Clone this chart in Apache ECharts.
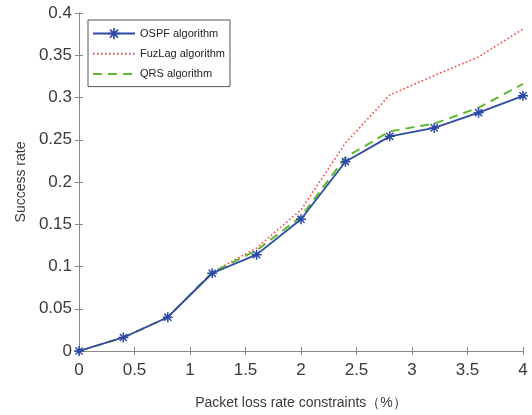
<!DOCTYPE html>
<html>
<head>
<meta charset="utf-8">
<script src="https://cdn.jsdelivr.net/npm/echarts@6/dist/echarts.min.js"></script>
<style>
  html, body { margin: 0; padding: 0; background: #fff; }
  #chart { width: 532px; height: 415px; }
</style>
</head>
<body>
<div id="chart"></div>
<script>
// Packet loss rate constraints (%)
const lossRates = [0, 0.4, 0.8, 1.2, 1.6, 2.0, 2.4, 2.8, 3.2, 3.6, 4.0];

// Success rate of each routing algorithm
const ospfRates   = [0, 0.016, 0.040, 0.092, 0.114, 0.156, 0.224, 0.254, 0.264, 0.282, 0.302];
const fuzlagRates = [0, 0.016, 0.040, 0.093, 0.122, 0.167, 0.246, 0.303, 0.326, 0.348, 0.381];
const qrsRates    = [0, 0.016, 0.040, 0.093, 0.119, 0.159, 0.229, 0.260, 0.269, 0.288, 0.316];

const seriesNames = ['OSPF algorithm', 'FuzLag algorithm', 'QRS algorithm'];

const pair = (xs, ys) => xs.map((x, i) => [x, ys[i]]);

// asterisk marker built from four thin bars
const asterisk = 'path://M8.5 0L11.5 0L11.5 20L8.5 20Z M0 8.5L20 8.5L20 11.5L0 11.5Z ' +
  'M1.8 3.9L3.9 1.8L18.2 16.1L16.1 18.2Z M16.1 1.8L18.2 3.9L3.9 18.2L1.8 16.1Z';

const axisGray = '#8a8a8a';
const labelColor = '#3a3a3a';
const font = 'Liberation Sans, Arial, sans-serif';

const boxAxis = {
  type: 'value',
  axisLine: { show: true, lineStyle: { color: axisGray, width: 1 } },
  axisTick: { show: true, inside: true, length: 4, lineStyle: { color: axisGray } },
  splitLine: { show: false }
};

const chart = echarts.init(document.getElementById('chart'));
chart.setOption({
  animation: false,
  backgroundColor: '#fff',
  grid: { left: 79, right: 9, top: 13, bottom: 63 },
  legend: {
    orient: 'vertical',
    left: 88,
    top: 20,
    data: [
      { name: seriesNames[0] },
      { name: seriesNames[1], itemStyle: { opacity: 0 } },
      { name: seriesNames[2], itemStyle: { opacity: 0 } }
    ],
    itemWidth: 42,
    itemHeight: 14,
    itemGap: 9,
    padding: [8, 5, 7, 4],
    borderColor: '#555',
    borderWidth: 1,
    backgroundColor: '#fff',
    textStyle: { fontFamily: font, fontSize: 11, color: '#222' }
  },
  xAxis: [Object.assign({}, boxAxis, {
    min: 0, max: 4, interval: 0.5,
    position: 'bottom',
    name: 'Packet loss rate constraints（%）',
    nameLocation: 'middle',
    nameGap: 45,
    nameTextStyle: { fontFamily: font, fontSize: 14, color: labelColor },
    axisLabel: { fontFamily: font, fontSize: 17, color: labelColor, margin: 11 }
  }), Object.assign({}, boxAxis, {
    min: 0, max: 4, interval: 0.5,
    position: 'top',
    axisLabel: { show: false }
  })],
  yAxis: [Object.assign({}, boxAxis, {
    min: 0, max: 0.4, interval: 0.05,
    position: 'left',
    name: 'Success rate',
    nameLocation: 'middle',
    nameGap: 48,
    nameTextStyle: { fontFamily: font, fontSize: 14, color: labelColor },
    axisLabel: { fontFamily: font, fontSize: 17, color: labelColor, margin: 7 }
  }), Object.assign({}, boxAxis, {
    min: 0, max: 0.4, interval: 0.05,
    position: 'right',
    axisLabel: { show: false }
  })],
  series: [{
    name: seriesNames[1],
    type: 'line',
    data: pair(lossRates, fuzlagRates),
    showSymbol: false,
    symbol: 'none',
    z: 2,
    itemStyle: { color: '#ff3b3b' },
    lineStyle: { color: '#ff3b3b', width: 1.6, type: [1.5, 2.5] }
  }, {
    name: seriesNames[2],
    type: 'line',
    data: pair(lossRates, qrsRates),
    showSymbol: false,
    symbol: 'none',
    z: 3,
    itemStyle: { color: '#5fb832' },
    lineStyle: { color: '#5fb832', width: 2, type: [9, 6] }
  }, {
    name: seriesNames[0],
    type: 'line',
    data: pair(lossRates, ospfRates),
    symbol: asterisk,
    symbolSize: 10,
    z: 4,
    itemStyle: { color: '#2c4aa6' },
    lineStyle: { color: '#2c4aa6', width: 1.8 }
  }]
});
</script>
</body>
</html>
